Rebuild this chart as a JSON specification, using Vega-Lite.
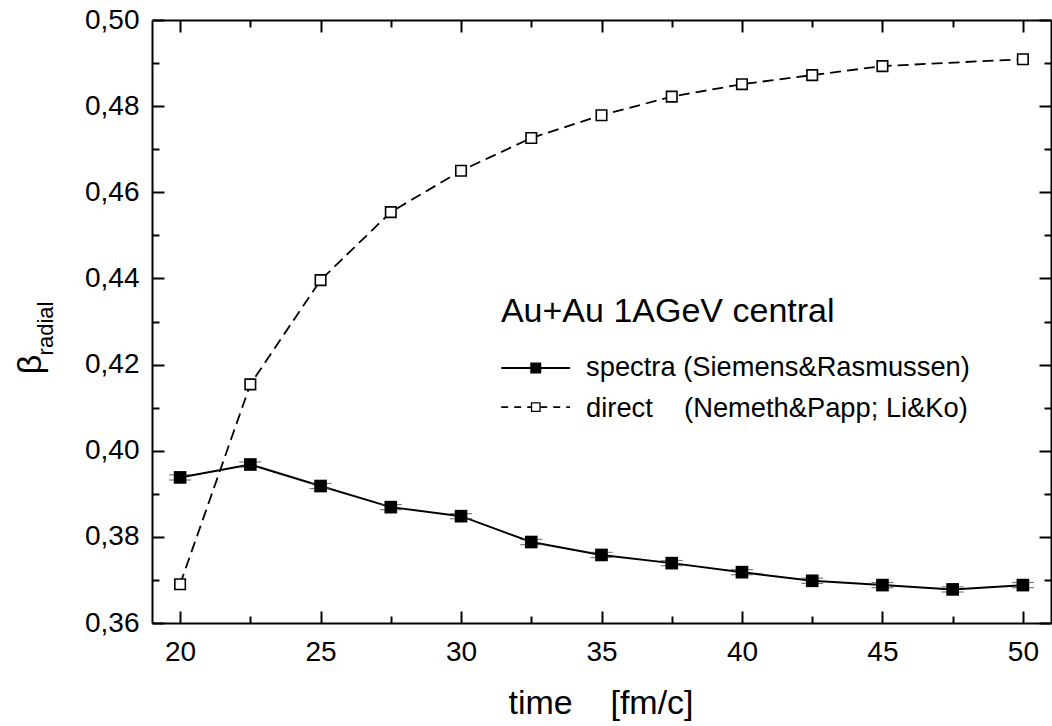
{
  "$schema": "https://vega.github.io/schema/vega-lite/v6.json",
  "width": 899,
  "height": 603,
  "autosize": "none",
  "padding": {"left": 152, "top": 20, "right": 1, "bottom": 103},
  "background": "white",
  "config": {
    "view": {"stroke": null},
    "font": "Liberation Sans",
    "axis": {
      "grid": false,
      "labelFont": "Liberation Sans",
      "titleFont": "Liberation Sans",
      "labelColor": "black",
      "titleColor": "black",
      "tickColor": "black",
      "domainColor": "black",
      "tickWidth": 2,
      "domainWidth": 2,
      "labelFontSize": 28,
      "titleFontWeight": "normal"
    }
  },
  "datasets": {
    "spectra": [
      {"t": 20, "beta": 0.3938, "lo": 0.3932, "hi": 0.3944},
      {"t": 22.5, "beta": 0.3968, "lo": 0.3962, "hi": 0.3974},
      {"t": 25, "beta": 0.3918, "lo": 0.3912, "hi": 0.3924},
      {"t": 27.5, "beta": 0.3869, "lo": 0.3863, "hi": 0.3875},
      {"t": 30, "beta": 0.3848, "lo": 0.3842, "hi": 0.3854},
      {"t": 32.5, "beta": 0.3788, "lo": 0.3782, "hi": 0.3794},
      {"t": 35, "beta": 0.3758, "lo": 0.3752, "hi": 0.3764},
      {"t": 37.5, "beta": 0.3739, "lo": 0.3733, "hi": 0.3745},
      {"t": 40, "beta": 0.3718, "lo": 0.3712, "hi": 0.3724},
      {"t": 42.5, "beta": 0.3698, "lo": 0.3692, "hi": 0.3704},
      {"t": 45, "beta": 0.3688, "lo": 0.3682, "hi": 0.3694},
      {"t": 47.5, "beta": 0.3678, "lo": 0.3672, "hi": 0.3684},
      {"t": 50, "beta": 0.3688, "lo": 0.3682, "hi": 0.3694}
    ],
    "direct": [
      {"t": 20, "beta": 0.3690},
      {"t": 22.5, "beta": 0.4154},
      {"t": 25, "beta": 0.4396},
      {"t": 27.5, "beta": 0.4554},
      {"t": 30, "beta": 0.4650},
      {"t": 32.5, "beta": 0.4726},
      {"t": 35, "beta": 0.4779},
      {"t": 37.5, "beta": 0.4822},
      {"t": 40, "beta": 0.4851},
      {"t": 42.5, "beta": 0.4872},
      {"t": 45, "beta": 0.4893},
      {"t": 50, "beta": 0.4909}
    ],
    "legendTitle": [{"x": 31.42, "y": 0.4299, "label": "Au+Au 1AGeV central"}],
    "legendText": [
      {"x": 34.45, "y": 0.4173, "label": "spectra (Siemens&Rasmussen)"},
      {"x": 34.45, "y": 0.4078, "label": "direct"},
      {"x": 37.94, "y": 0.4078, "label": "(Nemeth&Papp; Li&Ko)"}
    ],
    "legendSolid": [{"x": 31.43, "x2": 33.88, "y": 0.4192}],
    "legendDashed": [{"x": 31.43, "x2": 33.88, "y": 0.4101}],
    "legendFilled": [{"x": 32.66, "y": 0.4192}],
    "legendOpen": [{"x": 32.66, "y": 0.4101}]
  },
  "resolve": {"axis": {"x": "independent", "y": "independent"}},
  "layer": [
    {
      "data": {"name": "spectra"},
      "mark": {"type": "line", "color": "black", "strokeWidth": 2},
      "encoding": {
        "x": {
          "field": "t", "type": "quantitative",
          "scale": {"domain": [19, 51], "nice": false, "zero": false},
          "axis": {
            "orient": "bottom",
            "values": [20, 25, 30, 35, 40, 45, 50],
            "tickSize": -12,
            "labelPadding": 27,
            "labelBaseline": "top",
            "title": "time\u00a0\u00a0\u00a0\u00a0[fm/c]",
            "titleFontSize": 34,
            "titleX": 448.5,
            "titleY": 90,
            "titleAlign": "center",
            "titleBaseline": "alphabetic",
            "labelFlush": false
          }
        },
        "y": {
          "field": "beta", "type": "quantitative",
          "scale": {"domain": [0.36, 0.5], "nice": false, "zero": false},
          "axis": {
            "orient": "left",
            "values": [0.36, 0.38, 0.40, 0.42, 0.44, 0.46, 0.48, 0.50],
            "tickSize": -12,
            "labelPadding": 25,
            "labelExpr": "replace(format(datum.value, '.2f'), '.', ',')",
            "labelFlush": false,
            "labelBaseline": "middle",
            "title": "β",
            "titleFontSize": 34,
            "titleAngle": -90,
            "titleX": -112,
            "titleY": 344,
            "titleAlign": "center",
            "titleBaseline": "alphabetic"
          }
        }
      }
    },
    {
      "data": {"name": "direct"},
      "mark": {"type": "line", "color": "black", "strokeWidth": 1.8, "strokeDash": [11, 6]},
      "encoding": {
        "x": {
          "field": "t", "type": "quantitative",
          "axis": {
            "orient": "bottom",
            "values": [22.5, 27.5, 32.5, 37.5, 42.5, 47.5],
            "tickSize": -7,
            "labels": false,
            "domain": false,
            "title": null
          }
        },
        "y": {
          "field": "beta", "type": "quantitative",
          "axis": {
            "orient": "left",
            "values": [0.37, 0.39, 0.41, 0.43, 0.45, 0.47, 0.49],
            "tickSize": -7,
            "labels": false,
            "domain": false,
            "title": "radial",
            "titleFontSize": 22,
            "titleAngle": -90,
            "titleX": -100,
            "titleY": 308,
            "titleAlign": "center",
            "titleBaseline": "alphabetic"
          }
        }
      }
    },
    {
      "data": {"name": "spectra"},
      "mark": {"type": "tick", "orient": "horizontal", "color": "#444444", "thickness": 1.2, "size": 22},
      "encoding": {
        "x": {"field": "t", "type": "quantitative", "axis": null},
        "y": {"field": "hi", "type": "quantitative", "axis": null}
      }
    },
    {
      "data": {"name": "spectra"},
      "mark": {"type": "tick", "orient": "horizontal", "color": "#444444", "thickness": 1.2, "size": 22},
      "encoding": {
        "x": {"field": "t", "type": "quantitative", "axis": null},
        "y": {"field": "lo", "type": "quantitative", "axis": null}
      }
    },
    {
      "data": {"name": "spectra"},
      "mark": {"type": "point", "shape": "square", "filled": true, "color": "black", "size": 160, "opacity": 1},
      "encoding": {
        "x": {
          "field": "t", "type": "quantitative",
          "axis": {
            "orient": "top",
            "values": [20, 25, 30, 35, 40, 45, 50],
            "tickSize": -12,
            "labels": false,
            "title": null
          }
        },
        "y": {
          "field": "beta", "type": "quantitative",
          "axis": {
            "orient": "right",
            "values": [0.36, 0.38, 0.40, 0.42, 0.44, 0.46, 0.48, 0.50],
            "tickSize": -12,
            "labels": false,
            "title": null
          }
        }
      }
    },
    {
      "data": {"name": "direct"},
      "mark": {"type": "point", "shape": "square", "filled": true, "fill": "white", "stroke": "black", "strokeWidth": 1.6, "size": 110, "opacity": 1},
      "encoding": {
        "x": {
          "field": "t", "type": "quantitative",
          "axis": {
            "orient": "top",
            "values": [22.5, 27.5, 32.5, 37.5, 42.5, 47.5],
            "tickSize": -7,
            "labels": false,
            "domain": false,
            "title": null
          }
        },
        "y": {
          "field": "beta", "type": "quantitative",
          "axis": {
            "orient": "right",
            "values": [0.37, 0.39, 0.41, 0.43, 0.45, 0.47, 0.49],
            "tickSize": -7,
            "labels": false,
            "domain": false,
            "title": null
          }
        }
      }
    },
    {
      "data": {"name": "legendSolid"},
      "mark": {"type": "rule", "color": "black", "strokeWidth": 2},
      "encoding": {
        "x": {"field": "x", "type": "quantitative", "axis": null},
        "x2": {"field": "x2"},
        "y": {"field": "y", "type": "quantitative", "axis": null}
      }
    },
    {
      "data": {"name": "legendDashed"},
      "mark": {"type": "rule", "color": "black", "strokeWidth": 1.8, "strokeDash": [7, 6]},
      "encoding": {
        "x": {"field": "x", "type": "quantitative", "axis": null},
        "x2": {"field": "x2"},
        "y": {"field": "y", "type": "quantitative", "axis": null}
      }
    },
    {
      "data": {"name": "legendFilled"},
      "mark": {"type": "point", "shape": "square", "filled": true, "color": "black", "size": 121, "opacity": 1},
      "encoding": {
        "x": {"field": "x", "type": "quantitative", "axis": null},
        "y": {"field": "y", "type": "quantitative", "axis": null}
      }
    },
    {
      "data": {"name": "legendOpen"},
      "mark": {"type": "point", "shape": "square", "filled": true, "fill": "white", "stroke": "black", "strokeWidth": 1.3, "size": 72, "opacity": 1},
      "encoding": {
        "x": {"field": "x", "type": "quantitative", "axis": null},
        "y": {"field": "y", "type": "quantitative", "axis": null}
      }
    },
    {
      "data": {"name": "legendTitle"},
      "mark": {"type": "text", "align": "left", "baseline": "alphabetic", "fontSize": 34, "font": "Liberation Sans", "color": "black"},
      "encoding": {
        "x": {"field": "x", "type": "quantitative", "axis": null},
        "y": {"field": "y", "type": "quantitative", "axis": null},
        "text": {"field": "label"}
      }
    },
    {
      "data": {"name": "legendText"},
      "mark": {"type": "text", "align": "left", "baseline": "alphabetic", "fontSize": 27.3, "font": "Liberation Sans", "color": "black"},
      "encoding": {
        "x": {"field": "x", "type": "quantitative", "axis": null},
        "y": {"field": "y", "type": "quantitative", "axis": null},
        "text": {"field": "label"}
      }
    }
  ]
}
